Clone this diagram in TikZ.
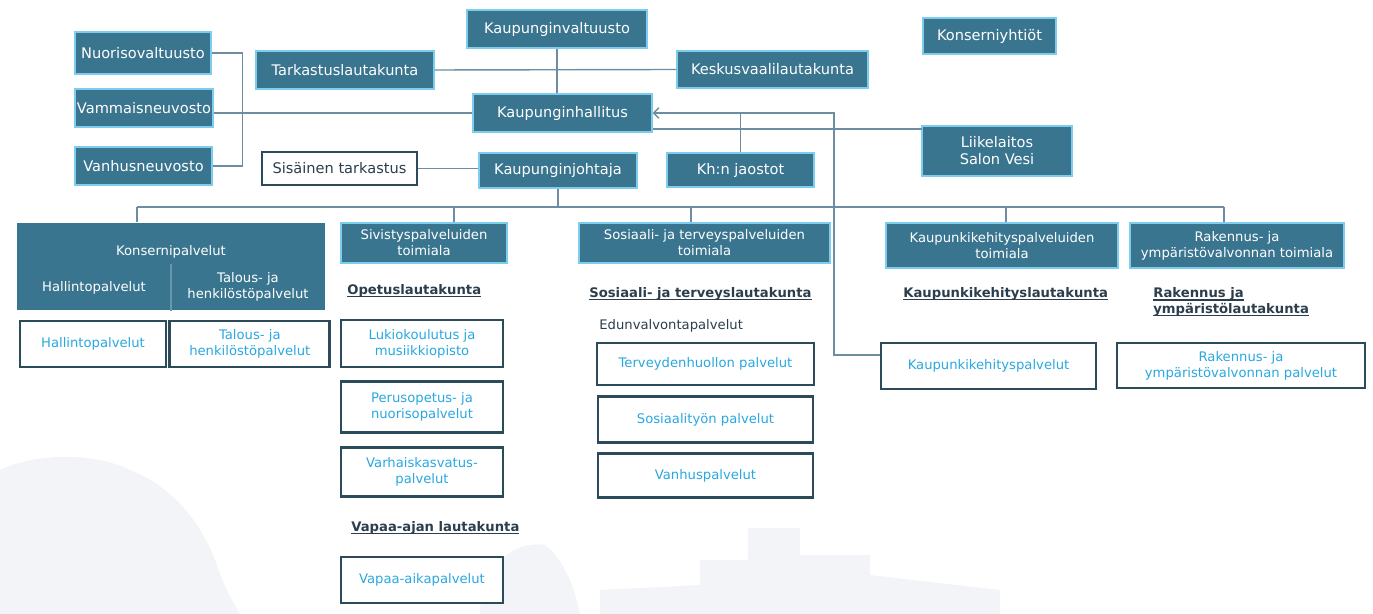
\documentclass[tikz,border=0pt]{standalone}
\usepackage{fontspec}
\setmainfont{DejaVu Sans}
\usetikzlibrary{positioning,arrows.meta}
\definecolor{tealbox}{HTML}{3A7590}
\definecolor{lightedge}{HTML}{7CCDEE}
\definecolor{slate}{HTML}{2B4A5A}
\definecolor{cyantext}{HTML}{2AA8E0}
\definecolor{darktext}{HTML}{2C3E4C}
\definecolor{linec}{HTML}{6D8EA2}
\definecolor{wmark}{HTML}{F2F4F7}
\newcommand{\lkline}[1]{\leavevmode\setbox0\hbox{#1}\rlap{\vrule height -0.9pt depth 1.7pt width \wd0}\box0}

\begin{document}
\begin{tikzpicture}[x=0.02cm, y=-0.02cm,
    sz/.style 2 args={minimum width=#1*0.02cm, minimum height=#2*0.02cm},
    org/.style={rectangle, draw=lightedge, line width=0.6pt, fill=tealbox, text=white, inner sep=0pt, align=center, font=\fontsize{8.3}{9.6}\selectfont},
    dept/.style={org, font=\fontsize{7.5}{9.1}\selectfont},
    lbl/.style={text=white, inner sep=0pt, align=center, font=\fontsize{7.5}{9.1}\selectfont},
    unit/.style={rectangle, draw=slate, line width=1.6pt, fill=white, text=cyantext, inner sep=0pt, align=center, font=\fontsize{7.5}{9.1}\selectfont},
    board/.style={text=darktext, inner sep=0pt, align=left, anchor=west, font=\fontsize{7.5}{9.1}\selectfont\bfseries},
    link/.style={draw=linec, line width=0.8pt}]
    \useasboundingbox (0,0) rectangle (1373,614);

    % faint background picture
    \begin{scope}
        \clip (0,0) rectangle (1373,614);
        \fill[wmark] (0,470) .. controls (30,455) and (90,450) .. (130,470) .. controls (170,485) and (200,520) .. (215,560) .. controls (225,590) and (235,605) .. (240,614) -- (0,614) -- cycle;
        \fill[wmark] (480,614) .. controls (480,565) and (515,540) .. (545,545) .. controls (565,560) and (575,590) .. (580,614) -- cycle;
        \fill[wmark] (600,614) -- (600,590) -- (700,585) -- (700,560) -- (748,560) -- (748,528) -- (800,528) -- (800,555) -- (870,555) -- (870,575) -- (1000,590) -- (1000,614) -- cycle;
    \end{scope}

    % top level
    \node[org, sz={136}{42}] (nuoriso) at (143,53) {Nuorisovaltuusto};
    \node[org, sz={138}{38}] (vammais) at (144,108) {Vammaisneuvosto};
    \node[org, sz={137}{38}] (vanhus) at (143.5,166) {Vanhusneuvosto};
    \node[org, sz={178}{38}] (tarkastus) at (345,70) {Tarkastuslautakunta};
    \node[org, sz={180}{38}] (valtuusto) at (557,29) {Kaupunginvaltuusto};
    \node[org, sz={191}{37}] (keskus) at (772.5,69.5) {Keskusvaalilautakunta};
    \node[org, sz={179}{38}] (khall) at (562.5,113) {Kaupunginhallitus};
    \node[org, sz={158}{35}] (kjohtaja) at (558,170.5) {Kaupunginjohtaja};
    \node[org, sz={147}{34}] (jaostot) at (740.5,170) {Kh:n jaostot};
    \node[org, sz={133}{36}] (konsyht) at (989.5,36) {Konserniyhtiöt};
    \node[org, sz={150}{50}] (liike) at (997,151) {Liikelaitos\\Salon Vesi};
    \node[org, fill=white, draw=slate, line width=0.9pt, text=darktext, sz={155}{33}] (sisainen) at (339.5,168.5) {Sisäinen tarkastus};

    % toimialat
    \node[dept, draw=none, sz={308}{87}] (konserni) at (171,266.5) {};
    \node[lbl] (konsernit) at (171,252) {Konsernipalvelut};
    \node[lbl] (hallt) at (94,288) {Hallintopalvelut};
    \node[lbl] (talt) at (248,287) {Talous- ja\\henkilöstöpalvelut};
    \node[dept, sz={166}{40}] (sivistys) at (424,243) {Sivistyspalveluiden\\toimiala};
    \node[dept, sz={251}{40}] (sostoim) at (704.5,243) {Sosiaali- ja terveyspalveluiden\\toimiala};
    \node[dept, sz={232}{45}] (kktoim) at (1002,245.5) {Kaupunkikehityspalveluiden\\toimiala};
    \node[dept, sz={214}{45}] (raktoim) at (1237,245.5) {Rakennus- ja\\ympäristövalvonnan toimiala};

    % lautakunnat
    \node[board] (opetus) at (347,291) {\lkline{Opetuslautakunta}};
    \node[board] (vapaalk) at (351,528) {\lkline{Vapaa-ajan lautakunta}};
    \node[board] (soslk) at (589,294) {\lkline{Sosiaali- ja terveyslautakunta}};
    \node[board, font=\fontsize{7.5}{9.1}\selectfont] (edunv) at (599,326) {Edunvalvontapalvelut};
    \node[board] (kklk) at (903,294) {\lkline{Kaupunkikehityslautakunta}};
    \node[board] (raklk) at (1153,302) {\lkline{Rakennus ja}\\\lkline{ympäristölautakunta}};

    % palvelut
    \node[unit, sz={146}{46}] (hallp) at (93,344) {Hallintopalvelut};
    \node[unit, sz={160}{46}, right=0.02cm of hallp] (talp) {Talous- ja\\henkilöstöpalvelut};
    \node[unit, sz={162}{47}] (lukio) at (422,343.5) {Lukiokoulutus ja\\musiikkiopisto};
    \node[unit, sz={162}{51}, below=0.24cm of lukio] (peruso) {Perusopetus- ja\\nuorisopalvelut};
    \node[unit, sz={162}{49}, below=0.24cm of peruso] (varhais) {Varhaiskasvatus-\\palvelut};
    \node[unit, sz={162}{46}] (vapaap) at (422,580) {Vapaa-aikapalvelut};
    \node[unit, sz={217}{42}] (terv) at (705.5,364) {Terveydenhuollon palvelut};
    \node[unit, sz={215}{46}, below=0.18cm of terv] (sostyo) {Sosiaalityön palvelut};
    \node[unit, sz={215}{44}, below=0.16cm of sostyo] (vanhusp) {Vanhuspalvelut};
    \node[unit, sz={215}{46}] (kkp) at (988.5,366) {Kaupunkikehityspalvelut};
    \node[unit, sz={248}{45}] (rakp) at (1241,365.5) {Rakennus- ja\\ympäristövalvonnan palvelut};

    % connectors
    \coordinate (b1) at (137,207);
    \coordinate (b2) at (454,207);
    \coordinate (b3) at (691,207);
    \coordinate (b4) at (1006,207);
    \coordinate (b5) at (1224,207);
    \coordinate (kk) at (834,355);
    \coordinate (lv) at (922,129);
    \draw[link] (nuoriso.east) -- ++(31,0) |- (vanhus.east);
    \draw[link] (khall.west) -- (khall.west -| vammais.east);
    \draw[link] (tarkastus.east) -- (keskus.west);
    \draw[link] (valtuusto.south) -- (valtuusto.south |- khall.north);
    \draw[link] (jaostot.north) -- (jaostot.north |- khall.east);
    \draw[link, {Straight Barb[length=3pt,width=6pt]}-] (khall.east) -| (kk) -- (kk -| kkp.west);
    \draw[link] (lv) -- (lv -| khall.east);
    \draw[link] (sisainen.east) -- (sisainen.east -| kjohtaja.west);
    \draw[link] (kjohtaja.south) -- (kjohtaja.south |- b1);
    \draw[link] (b1) -- (b5);
    \draw[link] (b1) -- (b1 |- konserni.north);
    \draw[link] (b2) -- (b2 |- sivistys.north);
    \draw[link] (b3) -- (b3 |- sostoim.north);
    \draw[link] (b4) -- (b4 |- kktoim.north);
    \draw[link] (b5) -- (b5 |- raktoim.north);
    \draw[draw=tealbox!75!white, line width=0.6pt] (konserni.south) -- ++(0,-47);
\end{tikzpicture}
\end{document}
